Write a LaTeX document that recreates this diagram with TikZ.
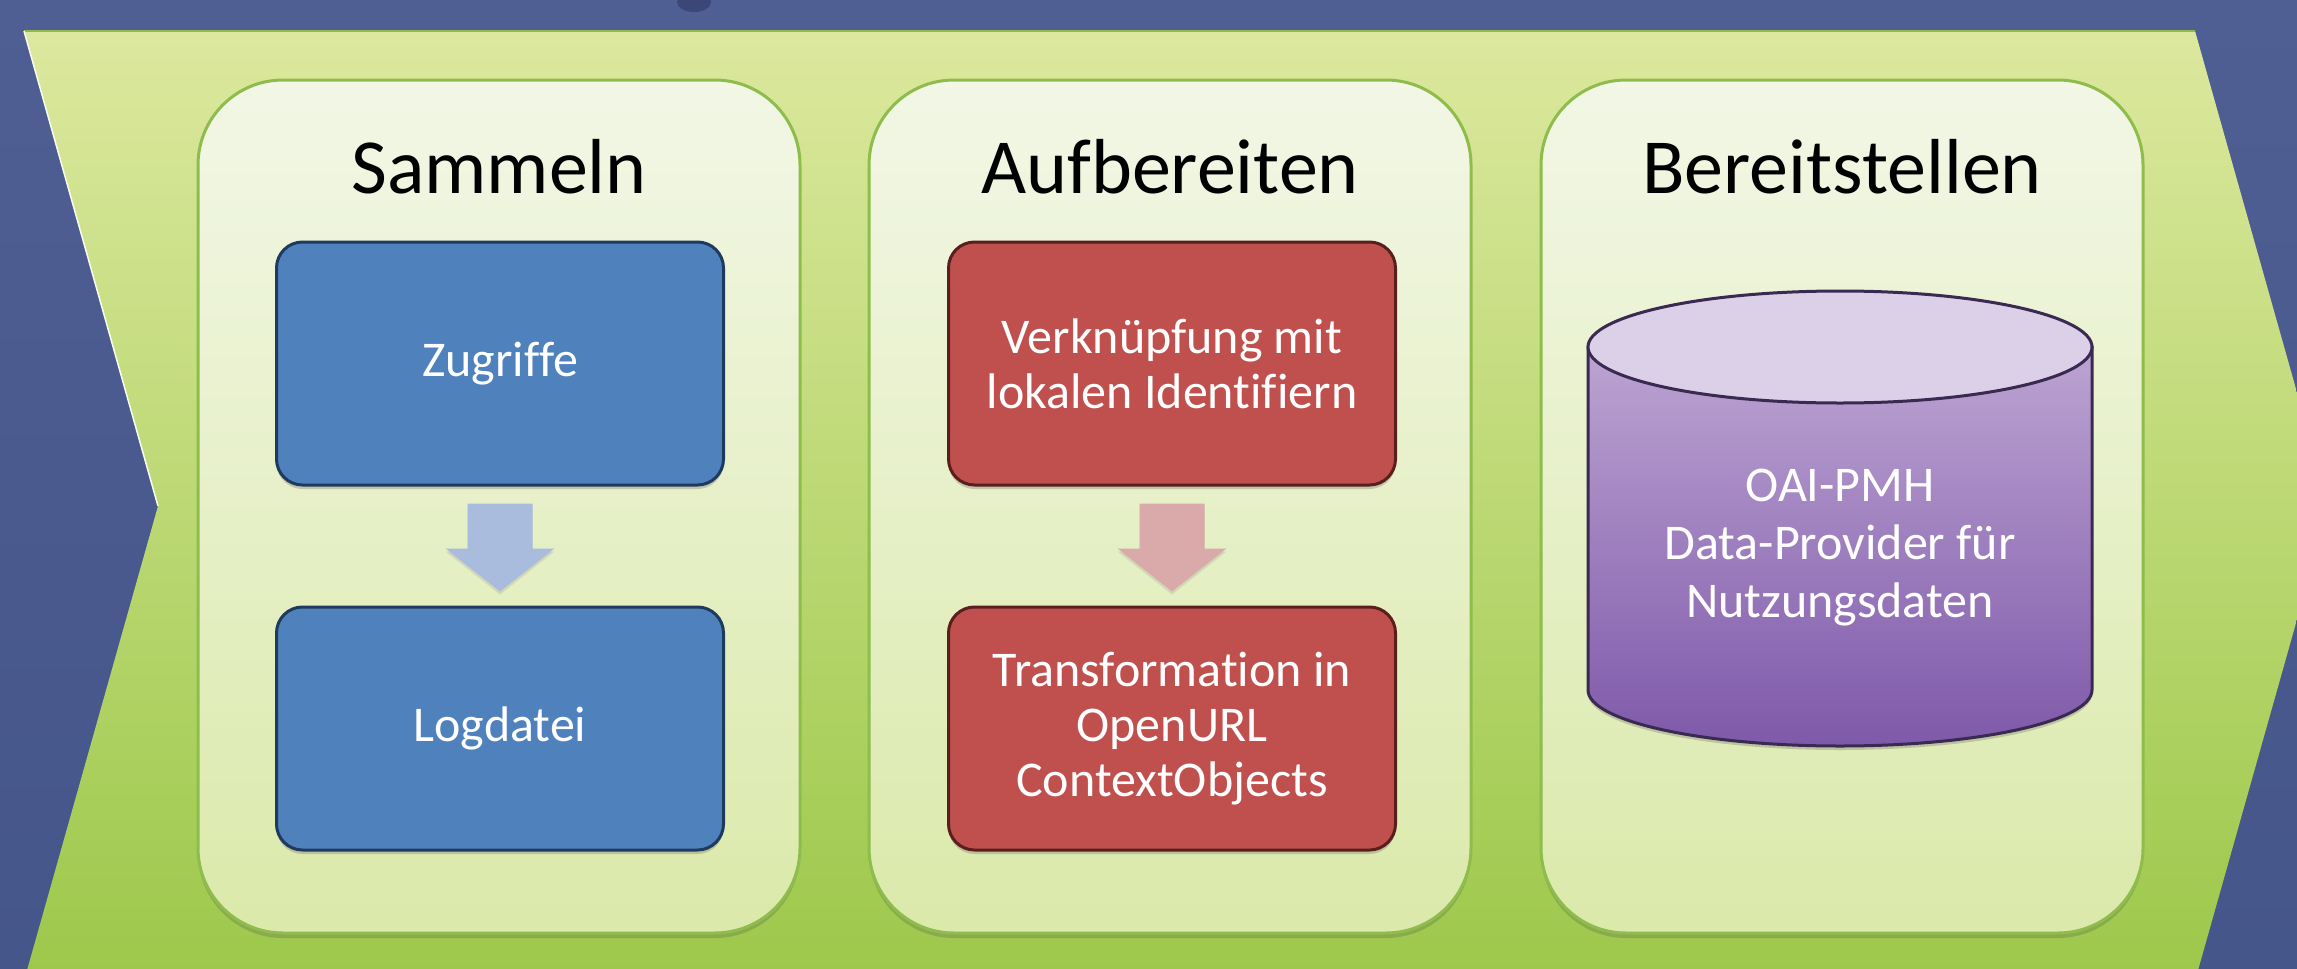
\documentclass[tikz,border=0pt]{standalone}
\usepackage{fontspec}
\setmainfont{Carlito}[Ligatures=NoCommon]
\usetikzlibrary{calc,shadows}
\definecolor{bgtop}{HTML}{4F5E93}
\definecolor{bgbot}{HTML}{45568A}
\definecolor{chevtop}{HTML}{DCE89E}
\definecolor{chevbot}{HTML}{9CC84A}
\definecolor{chevedge}{HTML}{8FB84E}
\definecolor{paneltop}{HTML}{F2F7E6}
\definecolor{panelbot}{HTML}{DBE9AA}
\definecolor{panelline}{HTML}{8EBC4D}
\definecolor{boxblue}{HTML}{4F81BD}
\definecolor{lineblue}{HTML}{1F3A5F}
\definecolor{arrblue}{HTML}{A9BCDE}
\definecolor{boxred}{HTML}{C0504D}
\definecolor{linered}{HTML}{5A1E1D}
\definecolor{arrred}{HTML}{D9AAA9}
\definecolor{cyltop}{HTML}{DCCFE8}
\definecolor{cylmid}{HTML}{BCA4D2}
\definecolor{cylbot}{HTML}{7F59AA}
\definecolor{cylline}{HTML}{3A2950}
\definecolor{smudge}{HTML}{2E3866}
\tikzset{
  panel/.style={draw=panelline, line width=3pt, rounded corners=85pt,
    top color=paneltop, bottom color=panelbot,
    minimum width=602pt, minimum height=853pt, inner sep=0pt,
    drop shadow={shadow xshift=0pt, shadow yshift=-5pt, opacity=0.25, fill=black!70}},
  title/.style={font=\fontsize{78}{94}\selectfont, text=black, inner sep=0pt},
  procbox/.style={line width=3pt, rounded corners=26pt, text=white,
    minimum width=447pt, minimum height=243pt, inner sep=0pt, align=center,
    font=\fontsize{50}{55}\selectfont,
    drop shadow={shadow xshift=0pt, shadow yshift=-4pt, opacity=0.3, fill=black!60}},
  bluebox/.style={procbox, draw=lineblue, fill=boxblue},
  redbox/.style={procbox, draw=linered, fill=boxred},
  cyltext/.style={text=white, align=center, inner sep=0pt,
    font=\fontsize{50}{58}\selectfont},
}
\begin{document}
\begin{tikzpicture}[x=1pt,y=-1pt]
\useasboundingbox (0,0) rectangle (2297,969);
% background
\shade[top color=bgtop, bottom color=bgbot] (0,0) rectangle (2297,969);
\fill[smudge, opacity=0.6] (694,2) ellipse [x radius=17, y radius=10];
% chevron
\shade[top color=chevtop, bottom color=chevbot]
  (24,31) -- (2195,31) -- (2329,506) -- (2195,981) -- (24,981) -- (158,506) -- cycle;
\draw[chevedge, line width=1.5pt] (24,31) -- (2195,31);
\draw[white!85!chevtop, line width=1.5pt] (24,31) -- (158,506);
% panels
\node[panel] (p1) at (499,506.5) {};
\node[panel] (p2) at (1170,506.5) {};
\node[panel] (p3) at (1842,506.5) {};
% titles
\node[title, anchor=base] (t1) at (499,193) {Sammeln};
\node[title, anchor=base] (t2) at (1170,193) {Aufbereiten};
\node[title, anchor=base] (t3) at (1842,193) {Bereitstellen};
% Sammeln boxes
\node[bluebox] (zug) at (500,363.5) {Zugriffe};
\node[bluebox] (log) at (500,728.5) {Logdatei};
% Aufbereiten boxes
\node[redbox] (verk) at (1172,363.5) {Verknüpfung mit\\lokalen Identifiern};
\node[redbox] (trans) at (1172,728.5) {Transformation in\\OpenURL\\ContextObjects};
% block arrows
\fill[arrblue, drop shadow={shadow xshift=0pt, shadow yshift=-3pt, opacity=0.2, fill=black!50}]
  ($(zug.south)+(-32.5,17)$) -- ($(zug.south)+(32.5,17)$) -- ($(zug.south)+(32.5,62)$)
  -- ($(zug.south)+(54.5,62)$) -- ($(log.north)+(0,-14)$) -- ($(zug.south)+(-54.5,62)$)
  -- ($(zug.south)+(-32.5,62)$) -- cycle;
\fill[arrred, drop shadow={shadow xshift=0pt, shadow yshift=-3pt, opacity=0.2, fill=black!50}]
  ($(verk.south)+(-32.5,17)$) -- ($(verk.south)+(32.5,17)$) -- ($(verk.south)+(32.5,62)$)
  -- ($(verk.south)+(54.5,62)$) -- ($(trans.north)+(0,-14)$) -- ($(verk.south)+(-54.5,62)$)
  -- ($(verk.south)+(-32.5,62)$) -- cycle;
% cylinder
\coordinate (ctop) at (1840,347);
\coordinate (cbot) at (1840,690);
\shade[top color=cylmid, bottom color=cylbot, draw=cylline, line width=3pt,
  drop shadow={shadow xshift=0pt, shadow yshift=-4pt, opacity=0.3, fill=black!60}]
  ($(ctop)+(-252,0)$) -- ($(cbot)+(-252,0)$)
  arc[start angle=180, end angle=0, x radius=252, y radius=56]
  -- ($(ctop)+(252,0)$) -- cycle;
\filldraw[fill=cyltop, draw=cylline, line width=3pt]
  (ctop) ellipse [x radius=252, y radius=56];
\node[cyltext] (oai) at (1840,548) {OAI-PMH\\Data-Provider für\\Nutzungsdaten};
\end{tikzpicture}
\end{document}
